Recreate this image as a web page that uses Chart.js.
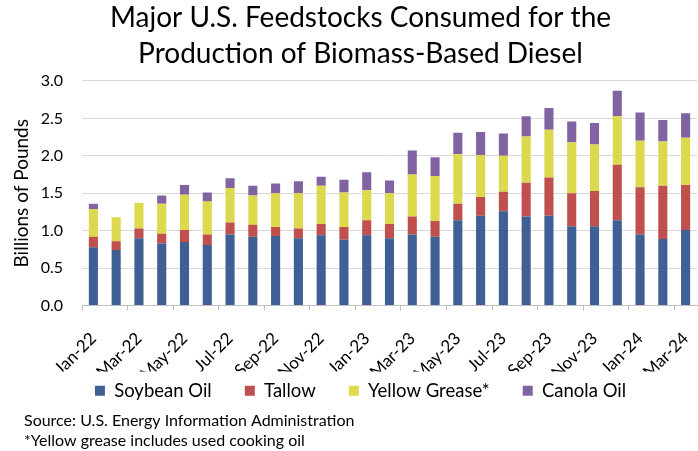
<!DOCTYPE html>
<html>
<head>
<meta charset="utf-8">
<script src="https://cdn.jsdelivr.net/npm/chart.js@4/dist/chart.umd.min.js"></script>
<style>
  html, body { margin: 0; padding: 0; background: #fff; }
  #wrap { width: 698px; height: 451px; }
</style>
</head>
<body>
<div id="wrap"><canvas id="chart"></canvas></div>
<script>
// months Jan-22 .. Mar-24
const months = ['Jan-22','Feb-22','Mar-22','Apr-22','May-22','Jun-22','Jul-22','Aug-22','Sep-22','Oct-22','Nov-22','Dec-22',
  'Jan-23','Feb-23','Mar-23','Apr-23','May-23','Jun-23','Jul-23','Aug-23','Sep-23','Oct-23','Nov-23','Dec-23',
  'Jan-24','Feb-24','Mar-24'];

// billions of pounds
const soybeanOil   = [0.78,0.74,0.90,0.83,0.85,0.81,0.95,0.92,0.93,0.90,0.94,0.88,0.94,0.90,0.95,0.92,1.14,1.20,1.26,1.19,1.20,1.06,1.06,1.14,0.95,0.89,1.01];
const tallow       = [0.14,0.12,0.13,0.13,0.16,0.14,0.16,0.16,0.12,0.13,0.15,0.17,0.20,0.19,0.24,0.21,0.22,0.25,0.26,0.45,0.51,0.44,0.47,0.74,0.63,0.71,0.60];
const yellowGrease = [0.37,0.32,0.34,0.40,0.47,0.44,0.46,0.39,0.45,0.47,0.51,0.46,0.40,0.41,0.56,0.60,0.66,0.56,0.48,0.62,0.64,0.68,0.62,0.65,0.62,0.59,0.63];
const canolaOil    = [0.07,0.00,0.00,0.11,0.13,0.12,0.13,0.13,0.13,0.16,0.12,0.17,0.24,0.17,0.32,0.25,0.29,0.31,0.30,0.27,0.29,0.28,0.29,0.34,0.38,0.29,0.33];

const yTicks = [0, 0.5, 1.0, 1.5, 2.0, 2.5, 3.0];

const FONT = 'Lato, "Open Sans", sans-serif';
Chart.defaults.font.family = FONT;
Chart.defaults.color = '#000';

const mk = (label, data, color) => ({
  label: label,
  data: data,
  backgroundColor: color,
  borderWidth: 0,
  barPercentage: 0.4,
  categoryPercentage: 1.0
});

// wide gaps between legend entries without the vertical padding that labels.padding adds
const legendLabels = chart =>
  Chart.defaults.plugins.legend.labels.generateLabels(chart)
    .map((item, i, all) => (i < all.length - 1 ? { ...item, text: item.text + '\u2003\u2002' } : item));

new Chart(document.getElementById('chart'), {
  type: 'bar',
  data: {
    labels: months,
    datasets: [
      mk('Soybean Oil', soybeanOil, '#3f5f95'),
      mk('Tallow', tallow, '#c0504d'),
      mk('Yellow Grease*', yellowGrease, '#dcd94c'),
      mk('Canola Oil', canolaOil, '#8064a2')
    ]
  },
  options: {
    responsive: true,
    maintainAspectRatio: false,
    animation: false,
    layout: { padding: { left: 24, right: 1, top: 0, bottom: 0 } },
    plugins: {
      title: {
        display: true,
        text: ['Major U.S. Feedstocks Consumed for the', 'Production of Biomass-Based Diesel'],
        font: { size: 28, weight: 'normal', lineHeight: 1.2857 },
        padding: { top: 0, bottom: 9 }
      },
      subtitle: {
        display: true,
        position: 'bottom',
        align: 'start',
        text: ['Source: U.S. Energy Information Administration', '*Yellow grease includes used cooking oil'],
        font: { size: 16, lineHeight: 1.25 },
        padding: { top: 1, bottom: 0 }
      },
      legend: {
        position: 'bottom',
        labels: {
          boxWidth: 10,
          boxHeight: 10,
          padding: 10,
          font: { size: 18.5 },
          generateLabels: legendLabels
        }
      },
      tooltip: { enabled: false }
    },
    scales: {
      x: {
        stacked: true,
        // fixed band under the axis; rotated labels may not squeeze the plot sideways
        afterFit: s => { s.height = 66; s.paddingLeft = 0; s.paddingRight = 0; },
        grid: {
          offset: true,
          drawOnChartArea: false,
          tickLength: 5,
          color: ctx => (ctx.index % 2 === 0 ? '#bfbfbf' : 'rgba(0,0,0,0)')
        },
        border: { color: '#bfbfbf' },
        ticks: {
          autoSkip: false,
          maxRotation: 45,
          minRotation: 45,
          font: { size: 17 },
          padding: 18,
          callback: function (val, i) { return i % 2 === 0 ? this.getLabelForValue(val) : ''; }
        }
      },
      y: {
        stacked: true,
        min: 0,
        max: 3.0,
        afterFit: s => { s.width = 58; },
        afterBuildTicks: axis => { axis.ticks = yTicks.map(v => ({ value: v })); },
        grid: { color: '#d9d9d9', drawTicks: false },
        border: { display: false },
        ticks: {
          font: { size: 16 },
          padding: 19,
          callback: v => v.toFixed(1)
        },
        title: {
          display: true,
          text: 'Billions of Pounds',
          font: { size: 19 },
          padding: { top: -14, bottom: 7 }
        }
      }
    }
  }
});
</script>
</body>
</html>
